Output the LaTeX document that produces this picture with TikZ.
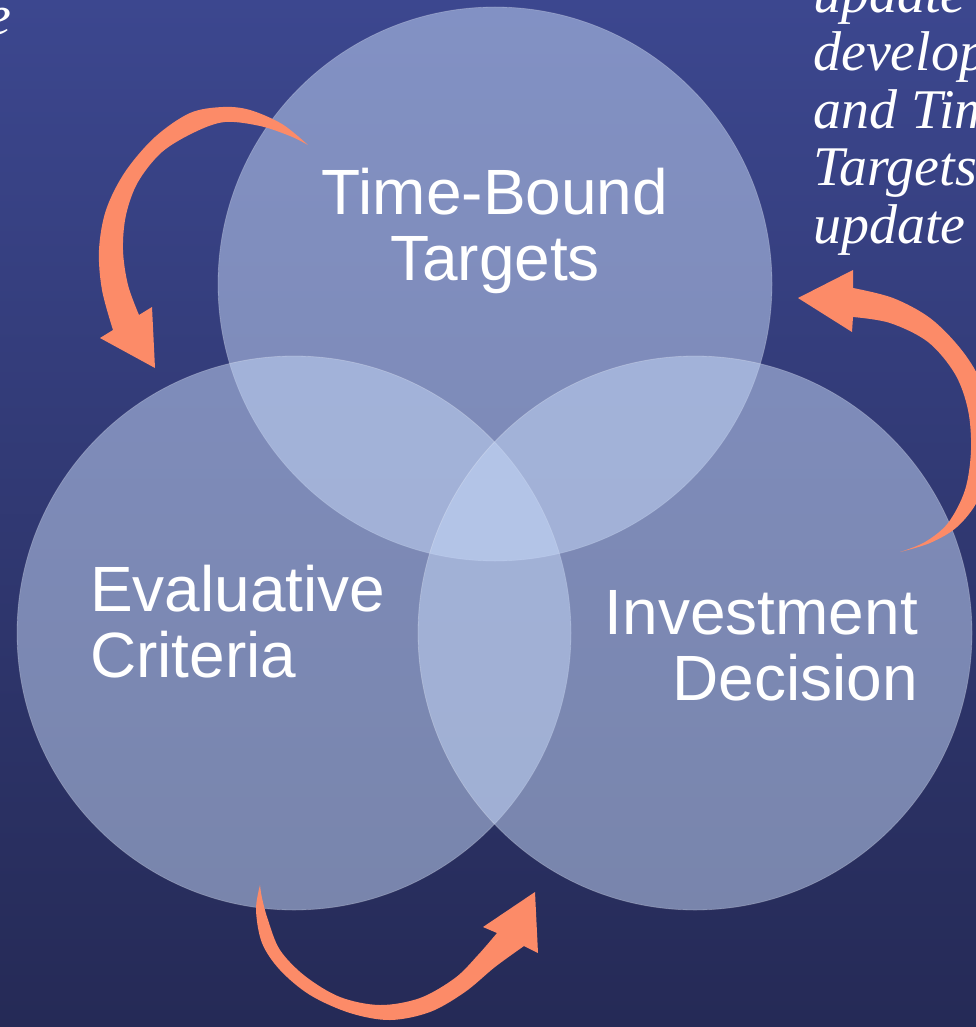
\documentclass[tikz,border=0pt]{standalone}
\usepackage{fontspec}
\newfontfamily\labelfont{Liberation Sans}
\newfontfamily\sidefont{Liberation Serif}
\definecolor{bgtop}{RGB}{60,71,143}
\definecolor{bgbot}{RGB}{37,42,86}
\definecolor{circ}{RGB}{196,214,246}
\definecolor{arrowc}{RGB}{252,139,104}
\begin{document}
\begin{tikzpicture}[x=1pt,y=-1pt,
  venn/.style={circle, inner sep=0pt, minimum size=554pt, fill=circ, fill opacity=0.52, draw=white, draw opacity=0.22, line width=0.8pt},
  lbl/.style={text=white, font=\labelfont\fontsize{64}{66}\selectfont, inner sep=0pt},
  side/.style={text=white, font=\sidefont\itshape\fontsize{56}{57.5}\selectfont, inner sep=0pt, align=left},
  arr/.style={fill=arrowc}]
\useasboundingbox (0,0) rectangle (976,1027);
\shade[top color=bgtop, bottom color=bgbot] (0,0) rectangle (976,1027);
\begin{scope}
\clip (0,0) rectangle (976,1027);
% side texts (cut by the page edge, as in the reference)
\node[side, anchor=base west] (sidetext) at (813,243) {update\\develop\\and Tim\\Targets\\update};
\node[side, anchor=base east] (lefttext) at (12,35) {e};
% venn circles
\node[venn] (ctop) at (495,284) {};
\node[venn] (cleft) at (294,633) {};
\node[venn] (cright) at (695,633) {};
% labels (base anchor = baseline of the last line)
\node[lbl, align=center, anchor=base] (ltop) at (495,280) {Time-Bound\\Targets};
\node[lbl, align=left, anchor=base west] (lleft) at (90,677) {Evaluative\\Criteria};
\node[lbl, align=right, anchor=base east] (lright) at (918,700) {Investment\\Decision};
% arrow 1 (top left, pointing down)
\fill[arr] plot[smooth, tension=0.55] coordinates {(308,145) (282,124) (250,110) (223,107) (190,113) (155,137) (125,172) (106,210) (99,250) (102,290) (113,330)}
  -- (100,338) -- (155,368) -- (152,307)
  -- plot[smooth, tension=0.55] coordinates {(139,315) (128,285) (123,250) (126,215) (138,182) (162,152) (195,132) (225,122) (260,126) (290,136) (308,145)} -- cycle;
% arrow 2 (right, pointing left)
\fill[arr] plot[smooth, tension=0.55] coordinates {(900,552) (930,543) (957,527) (978,500) (990,460) (990,420) (980,380) (960,348) (930,318) (893,298) (853,288)}
  -- (853,270) -- (798,298) -- (852,332)
  -- plot[smooth, tension=0.55] coordinates {(853,317) (890,323) (928,342) (955,374) (968,410) (971,450) (965,490) (948,523) (925,542) (900,552)} -- cycle;
% arrow 3 (bottom, pointing up right)
\fill[arr] plot[smooth, tension=0.55] coordinates {(260,885) (256,910) (262,943) (280,970) (310,995) (350,1013) (390,1020) (430,1012) (465,992) (495,967) (524,946)}
  -- (538,953) -- (535,892) -- (483,927)
  -- plot[smooth, tension=0.55] coordinates {(497,933) (478,955) (455,978) (420,998) (380,1005) (340,997) (305,976) (280,950) (268,920) (262,898) (260,885)} -- cycle;
\end{scope}
\end{tikzpicture}
\end{document}
